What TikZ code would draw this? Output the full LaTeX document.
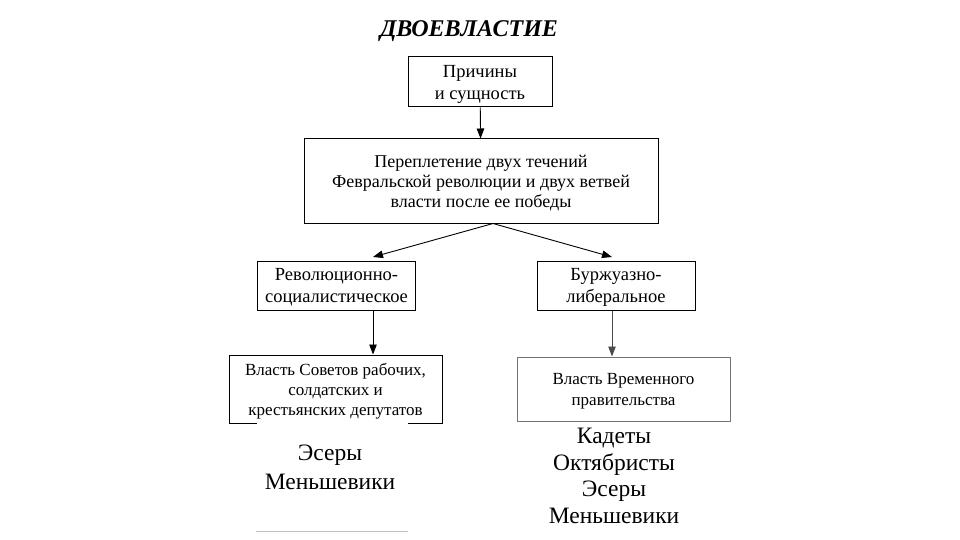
\documentclass[tikz,border=0pt]{standalone}
\usepackage{fontspec}
\setmainfont{Liberation Serif}
\usetikzlibrary{arrows.meta}

\tikzset{
  box/.style={draw, line width=1pt, align=center, inner sep=0pt, text depth=0pt, font=\fontsize{18.5}{22}\selectfont},
  arr/.style={-{Triangle[length=10pt,width=7.5pt]}, line width=0.9pt},
  party/.style={align=center, font=\fontsize{23.5}{26.5}\selectfont}
}

\begin{document}
\begin{tikzpicture}[x=1pt,y=-1pt]
    \useasboundingbox (0,0) rectangle (960,540);

    \coordinate (tipL) at (373,257);
    \coordinate (tipR) at (612,257);

    \node[font=\fontsize{24}{26}\selectfont\bfseries\itshape] (title) at (469,31) {ДВОЕВЛАСТИЕ};

    \node[box, minimum width=144pt, minimum height=50pt] (causes) at (480,82) {Причины\\и сущность};
    \node[box, minimum width=354pt, minimum height=84pt, font=\fontsize{18}{20}\selectfont] (weave) at (481,181)
        {Переплетение двух течений\\Февральской революции и двух ветвей\\власти после ее победы};
    \coordinate (split) at ([xshift=12pt]weave.south);

    \node[box, minimum width=158pt, minimum height=49pt] (revsoc) at (336.5,285.5) {Революционно-\\социалистическое};
    \node[box, minimum width=158pt, minimum height=49pt] (burlib) at (616,285.5) {Буржуазно-\\либеральное};

    \node[box, minimum width=213pt, minimum height=68pt, font=\fontsize{17}{20}\selectfont] (soviets) at (335.5,389)
        {Власть Советов рабочих,\\солдатских и\\крестьянских депутатов};
    \node[box, draw=black!55, minimum width=213pt, minimum height=64pt, font=\fontsize{17}{21}\selectfont] (provgov) at (623.5,389)
        {Власть Временного\\правительства};

    % white patch over the bottom of the soviets box
    \node[fill=white, inner sep=0pt, minimum width=151pt, minimum height=108.5pt] (cover) at (332,476.75) {};
    \draw[black!25, line width=0.8pt] (cover.south west) -- (cover.south east);

    \node[party, font=\fontsize{23.5}{29}\selectfont] (leftparty) at (330,467) {Эсеры\\Меньшевики};
    \node[party] (rightparty) at (614,476) {Кадеты\\Октябристы\\Эсеры\\Меньшевики};

    \draw[arr] (causes) -- (weave);
    \draw[arr] (split) -- (tipL);
    \draw[arr] (split) -- (tipR);
    \draw[arr] (tipL |- revsoc.south) -- (tipL |- soviets.north);
    \draw[arr, black!70] (tipR |- burlib.south) -- (tipR |- provgov.north);
\end{tikzpicture}
\end{document}
